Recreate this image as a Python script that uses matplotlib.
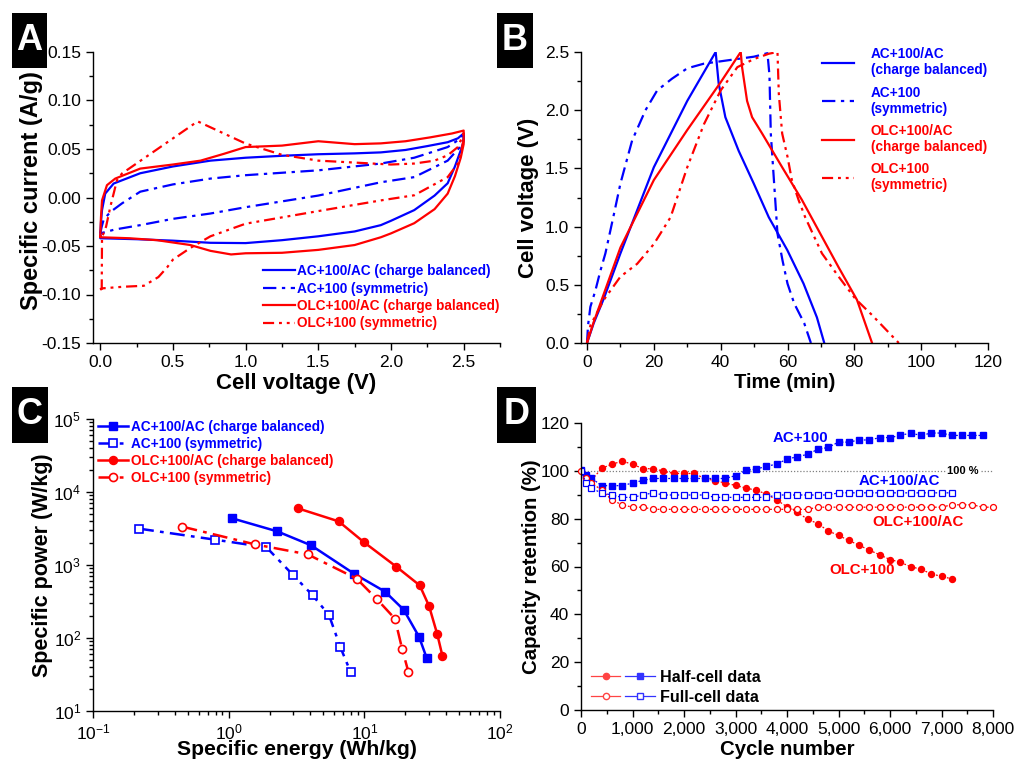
import matplotlib
matplotlib.use("Agg")
import matplotlib.pyplot as plt
from matplotlib.patches import Rectangle
from matplotlib.legend_handler import HandlerTuple
from matplotlib.ticker import MultipleLocator, FuncFormatter

plt.rcParams['font.family'] = ['Liberation Sans', 'DejaVu Sans']
plt.rcParams['mathtext.fontset'] = 'custom'
plt.rcParams['mathtext.rm'] = 'Liberation Sans'

BLUE = '#0000ff'
RED = '#ff0000'
DASHDOT = (0, (6, 2.5, 1.5, 2.5))
DASHDOTDOT = (0, (5, 2.2, 1.3, 2.2, 1.3, 2.2))

# ---------- A: cyclic voltammetry (V, A/g) ----------
cv_ac_bal_v = [0.0, 0.005, 0.012, 0.034, 0.092, 0.275, 0.5, 0.758, 1.0, 1.25, 1.5, 1.75,
               1.93, 2.1, 2.25, 2.39, 2.46, 2.5,
               2.5, 2.48, 2.44, 2.39, 2.3, 2.16, 2.0, 1.93, 1.75, 1.5, 1.25, 1.0, 0.758,
               0.5, 0.25, 0.0, 0.0]
cv_ac_bal_i = [-0.040, -0.025, -0.013, 0.004, 0.0144, 0.025, 0.032, 0.038, 0.041, 0.043,
               0.0446, 0.0455, 0.0465, 0.049, 0.053, 0.057, 0.061, 0.066,
               0.058, 0.0487, 0.032, 0.0147, 0.002, -0.013, -0.024, -0.0285, -0.035,
               -0.040, -0.044, -0.047, -0.0467, -0.0445, -0.043, -0.042, -0.040]

cv_ac_sym_v = [0.0, 0.01, 0.023, 0.069, 0.15, 0.275, 0.5, 0.758, 1.0, 1.5, 1.93, 2.16,
               2.39, 2.47, 2.5,
               2.5, 2.48, 2.39, 2.16, 1.93, 1.5, 1.0, 0.758, 0.5, 0.275, 0.1, 0.0]
cv_ac_sym_i = [-0.037, -0.030, -0.023, -0.015, -0.006, 0.006, 0.0135, 0.0195, 0.023, 0.028,
               0.035, 0.041, 0.052, 0.060, 0.066,
               0.060, 0.053, 0.038, 0.021, 0.0157, 0.002, -0.010, -0.0165, -0.022,
               -0.0285, -0.033, -0.037]

cv_olc_bal_v = [0.0, 0.005, 0.012, 0.046, 0.103, 0.275, 0.5, 0.69, 0.85, 1.0, 1.25, 1.5,
                1.75, 1.93, 2.1, 2.27, 2.42, 2.5,
                2.5, 2.48, 2.44, 2.39, 2.3, 2.16, 2.0, 1.93, 1.75, 1.5, 1.25, 1.0, 0.9,
                0.758, 0.62, 0.39, 0.2, 0.0, 0.0]
cv_olc_bal_i = [-0.040, -0.020, -0.003, 0.0127, 0.0195, 0.0298, 0.034, 0.038, 0.045, 0.052,
                0.0535, 0.058, 0.055, 0.0558, 0.058, 0.062, 0.066, 0.069,
                0.055, 0.041, 0.022, 0.004, -0.012, -0.0265, -0.037, -0.041, -0.049,
                -0.054, -0.057, -0.0575, -0.0587, -0.055, -0.049, -0.044, -0.042,
                -0.041, -0.040]

cv_olc_sym_v = [0.0, 0.01, 0.012, 0.04, 0.069, 0.115, 0.149, 0.67, 1.0, 1.25, 1.5, 2.0,
                2.16, 2.3, 2.39, 2.46, 2.5,
                2.5, 2.48, 2.46, 2.39, 2.16, 1.93, 1.5, 1.0, 0.758, 0.62, 0.5, 0.46,
                0.4, 0.3, 0.16, 0.01, 0.0]
cv_olc_sym_i = [-0.095, -0.094, -0.041, -0.030, -0.0097, 0.0178, 0.0247, 0.0785, 0.0556,
                0.044, 0.038, 0.034, 0.035, 0.038, 0.0435, 0.052, 0.066,
                0.060, 0.0455, 0.035, 0.021, 0.0023, -0.003, -0.014, -0.027, -0.040,
                -0.052, -0.064, -0.072, -0.082, -0.091, -0.092, -0.0937, -0.095]

# ---------- B: galvanostatic charge/discharge (min, V) ----------
gc_ac_bal_t = [0, 2, 5, 10, 20, 30, 38.5, 39.4, 41.4, 45.4, 49.9, 54.4, 59.9, 64.8, 68.8,
               71]
gc_ac_bal_v = [0, 0.17, 0.38, 0.77, 1.51, 2.08, 2.50, 2.23, 1.94, 1.65, 1.37, 1.08, 0.80,
               0.51, 0.22, 0]

gc_ac_sym_t = [0, 0.3, 1, 2.5, 4, 5.5, 8, 10, 13.5, 17.5, 21, 25.4, 30, 35, 40, 50, 54,
               54.6, 55, 56, 57, 58.5, 60, 62, 65, 67]
gc_ac_sym_v = [0, 0.15, 0.31, 0.45, 0.62, 0.77, 1.10, 1.37, 1.74, 2.00, 2.17, 2.27, 2.36,
               2.40, 2.42, 2.46, 2.49, 2.30, 1.80, 1.37, 0.94, 0.71, 0.51, 0.34, 0.17, 0]

gc_olc_bal_t = [0, 2, 5, 10, 20, 30, 40, 46, 46.4, 47.9, 49.4, 52.4, 58.4, 64.3, 69.8,
                75.3, 80.8, 85.3]
gc_olc_bal_v = [0, 0.18, 0.42, 0.82, 1.40, 1.83, 2.24, 2.50, 2.37, 2.08, 1.94, 1.80, 1.51,
                1.23, 0.94, 0.65, 0.37, 0]

gc_olc_sym_t = [0, 1, 5, 10, 15, 20, 25, 30, 35, 40, 45, 50, 54.4, 57, 57.4, 58.4, 60, 61.3,
                63.3, 65.3, 70.3, 75.3, 80.3, 85.3, 90.3, 93.3]
gc_olc_sym_v = [0, 0.15, 0.37, 0.57, 0.68, 0.85, 1.08, 1.51, 1.88, 2.17, 2.37, 2.44, 2.485,
                2.50, 2.14, 1.80, 1.60, 1.40, 1.23, 1.08, 0.77, 0.57, 0.38, 0.24, 0.09, 0]

# ---------- C: Ragone plot (Wh/kg, W/kg) ----------
rg_ac_bal_e = [1.06, 2.28, 4.05, 8.39, 14.2, 19.5, 25.3, 28.8]
rg_ac_bal_p = [4360, 2890, 1860, 761, 432, 244, 104, 53.3]
rg_ac_sym_e = [0.218, 0.797, 1.90, 2.98, 4.16, 5.49, 6.65, 7.93]
rg_ac_sym_p = [3150, 2220, 1745, 730, 384, 206, 75.3, 33.9]
rg_olc_bal_e = [3.24, 6.47, 9.94, 17.2, 25.6, 30.0, 34.5, 37.6]
rg_olc_bal_p = [5970, 3960, 2050, 949, 526, 274, 112, 57.3]
rg_olc_sym_e = [0.456, 1.56, 3.82, 8.78, 12.4, 16.8, 19.0, 21.1]
rg_olc_sym_p = [3350, 1918, 1400, 650, 339, 184, 70.7, 34.6]

# ---------- D: cycling stability (cycle, %) ----------
cyc = [0, 100, 200, 400, 600, 800, 1000, 1200, 1400, 1600, 1800, 2000, 2200, 2400, 2600,
       2800, 3000, 3200, 3400, 3600, 3800, 4000, 4200, 4400, 4600, 4800, 5000, 5200, 5400,
       5600, 5800, 6000, 6200, 6400, 6600, 6800, 7000, 7200, 7400, 7600, 7800, 8000]
half_ac = [100.5, 98.1, 97.0, 93.8, 93.8, 93.8, 94.9, 96.0, 96.8, 96.8, 96.8, 96.8, 96.8,
           96.8, 96.8, 96.8, 98.0, 100.2, 100.7, 101.9, 102.8, 104.9, 105.9, 106.9, 109.0,
           109.8, 112.0, 112.0, 112.9, 112.9, 113.9, 113.9, 114.8, 115.8, 114.8, 115.8,
           115.8, 114.8, 114.8, 114.8, 114.8]
half_olc = [100.0, 97.5, 96.0, 101.0, 102.8, 104.0, 102.8, 100.9, 100.9, 99.9, 98.9, 98.9,
            98.9, 96.8, 95.9, 94.9, 93.9, 92.8, 91.9, 90.3, 87.8, 85.0, 82.6, 79.8, 77.9,
            74.9, 73.0, 70.9, 68.9, 66.8, 64.9, 62.9, 61.8, 59.9, 58.9, 56.9, 55.9, 54.8]
full_ac = [100.0, 94.9, 92.8, 90.7, 89.9, 88.9, 88.9, 89.9, 90.8, 89.9, 89.9, 89.9, 89.9,
           89.9, 88.9, 88.9, 88.9, 88.9, 88.9, 88.9, 89.9, 89.9, 89.9, 89.9, 89.9, 89.9,
           90.8, 90.8, 90.8, 90.8, 90.8, 90.8, 90.8, 90.8, 90.8, 90.8, 90.8, 90.8]
full_olc = [100.0, 97.0, 95.0, 92.0, 87.8, 85.8, 84.8, 84.8, 83.9, 83.9, 83.9, 83.9, 83.9,
            83.9, 83.9, 83.9, 83.9, 83.9, 83.9, 83.9, 83.9, 83.9, 83.9, 83.9, 84.8, 84.8,
            84.8, 84.8, 84.8, 84.8, 84.8, 84.8, 84.8, 84.8, 84.8, 84.8, 84.8, 85.8, 85.8,
            85.8, 84.8, 84.8]

W, H = 1014, 759
fig = plt.figure(figsize=(W / 100, H / 100), dpi=100)


def px_axes(left, top, right, bottom):
    return fig.add_axes([left / W, 1 - bottom / H, (right - left) / W, (bottom - top) / H])


def style(ax):
    ax.spines['top'].set_visible(False)
    ax.spines['right'].set_visible(False)
    for s in ('left', 'bottom'):
        ax.spines[s].set_linewidth(1.0)
    ax.tick_params(which='both', direction='out', labelsize=12.5, width=1.0)
    ax.tick_params(which='major', length=5)
    ax.tick_params(which='minor', length=3)


def panel_label(letter, left, top, right, bottom):
    fig.patches.append(Rectangle((left / W, 1 - bottom / H), (right - left) / W,
                                 (bottom - top) / H, transform=fig.transFigure,
                                 facecolor='black', edgecolor='none'))
    fig.text((left + right) / 2 / W, 1 - (top + bottom) / 2 / H, letter, color='white',
             fontsize=26, fontweight='bold', ha='center', va='center')


def color_legend(lg):
    for t, l in zip(lg.get_texts(), lg.get_lines()):
        t.set_color(l.get_color())


leg_font = dict(size=9.8, weight='bold')

# A
ax = px_axes(93, 52, 500, 343)
style(ax)
ax.plot(cv_ac_bal_v, cv_ac_bal_i, color=BLUE, lw=1.6, label='AC+100/AC (charge balanced)')
ax.plot(cv_ac_sym_v, cv_ac_sym_i, color=BLUE, lw=1.6, ls=DASHDOT, label='AC+100 (symmetric)')
ax.plot(cv_olc_bal_v, cv_olc_bal_i, color=RED, lw=1.6,
        label='OLC+100/AC (charge balanced)')
ax.plot(cv_olc_sym_v, cv_olc_sym_i, color=RED, lw=1.6, ls=DASHDOTDOT,
        label='OLC+100 (symmetric)')
ax.set_xlim(-0.05, 2.75)
ax.set_ylim(-0.15, 0.15)
ax.xaxis.set_major_locator(MultipleLocator(0.5))
ax.xaxis.set_minor_locator(MultipleLocator(0.25))
ax.yaxis.set_major_locator(MultipleLocator(0.05))
ax.yaxis.set_minor_locator(MultipleLocator(0.025))
ax.xaxis.set_major_formatter(FuncFormatter(lambda v, p: '%.1f' % v))
ax.yaxis.set_major_formatter(FuncFormatter(lambda v, p: '%.2f' % v))
ax.set_xlabel('Cell voltage (V)', labelpad=2, fontsize=16, fontweight='bold')
ax.set_ylabel('Specific current (A/g)', fontsize=17, fontweight='bold')
ax.yaxis.set_label_coords(-0.123, 0.525)
lg = ax.legend(loc='lower left', bbox_to_anchor=(0.40, 0.02), frameon=False, prop=leg_font,
               handlelength=2.4, handletextpad=0.15, labelspacing=0.25, borderpad=0)
color_legend(lg)

# B
ax = px_axes(581, 52, 988, 343)
style(ax)
ax.plot(gc_ac_bal_t, gc_ac_bal_v, color=BLUE, lw=1.6, label='AC+100/AC\n(charge balanced)')
ax.plot(gc_ac_sym_t, gc_ac_sym_v, color=BLUE, lw=1.6, ls=DASHDOT, label='AC+100\n(symmetric)')
ax.plot(gc_olc_bal_t, gc_olc_bal_v, color=RED, lw=1.6, label='OLC+100/AC\n(charge balanced)')
ax.plot(gc_olc_sym_t, gc_olc_sym_v, color=RED, lw=1.6, ls=DASHDOTDOT,
        label='OLC+100\n(symmetric)')
ax.set_xlim(-1.8, 120)
ax.set_ylim(0, 2.5)
ax.xaxis.set_major_locator(MultipleLocator(20))
ax.xaxis.set_minor_locator(MultipleLocator(10))
ax.yaxis.set_major_locator(MultipleLocator(0.5))
ax.yaxis.set_minor_locator(MultipleLocator(0.25))
ax.yaxis.set_major_formatter(FuncFormatter(lambda v, p: '%.1f' % v))
ax.set_xlabel('Time (min)', labelpad=2, fontsize=14.5, fontweight='bold')
ax.set_ylabel('Cell voltage (V)', labelpad=4, fontsize=16, fontweight='bold')
lg = ax.legend(loc='upper left', bbox_to_anchor=(0.575, 1.04), frameon=False, prop=leg_font,
               handlelength=2.4, handletextpad=1.2, labelspacing=0.6, borderpad=0)
color_legend(lg)

# C
ax = px_axes(93, 419, 500, 711)
style(ax)
ax.plot(rg_ac_bal_e, rg_ac_bal_p, color=BLUE, lw=1.8, marker='s', ms=5.2,
        label='AC+100/AC (charge balanced)')
ax.plot(rg_ac_sym_e, rg_ac_sym_p, color=BLUE, lw=1.8, ls=DASHDOT, marker='s', ms=5.2,
        mfc='white', mew=1.2, label='AC+100 (symmetric)')
ax.plot(rg_olc_bal_e, rg_olc_bal_p, color=RED, lw=1.8, marker='o', ms=5.8,
        label='OLC+100/AC (charge balanced)')
ax.plot(rg_olc_sym_e, rg_olc_sym_p, color=RED, lw=1.8, ls=DASHDOT, marker='o', ms=5.8,
        mfc='white', mew=1.2, label='OLC+100 (symmetric)')
ax.set_xscale('log')
ax.set_yscale('log')
ax.set_xlim(0.1, 100)
ax.set_ylim(10, 1e5)
ax.set_xlabel('Specific energy (Wh/kg)', labelpad=-2.0, fontsize=15.2, fontweight='bold')
ax.set_ylabel('Specific power (W/kg)', labelpad=0, fontsize=15.5, fontweight='bold')
lg = ax.legend(loc='upper left', bbox_to_anchor=(-0.004, 1.02), frameon=False, prop=leg_font,
               handlelength=2.2, handletextpad=0.2, labelspacing=0.22, borderpad=0)
color_legend(lg)

# D
ax = px_axes(581, 423, 993, 710)
style(ax)
ax.axhline(100, xmin=0, xmax=7080 / 8000, color='gray', lw=0.9, ls=(0, (1, 1.5)))
ax.axhline(100, xmin=7760 / 8000, xmax=1, color='gray', lw=0.9, ls=(0, (1, 1.5)))
ax.text(7420, 100, '100 %', fontsize=8, fontweight='bold', ha='center', va='center')
n1, n2, n3 = len(half_ac), len(half_olc), len(full_ac)
dot = (0, (1.5, 1.5))
ax.plot(cyc[:n2], half_olc, color=RED, lw=0.9, ls=dot, marker='o', ms=4.3)
ax.plot(cyc[:n1], half_ac, color=BLUE, lw=0.9, ls=dot, marker='s', ms=3.8)
ax.plot(cyc, full_olc, color=RED, lw=0.9, ls=dot, marker='o', ms=4.3, mfc='white',
        mew=0.9, clip_on=False)
ax.plot(cyc[:n3], full_ac, color=BLUE, lw=0.9, ls=dot, marker='s', ms=3.8, mfc='white',
        mew=0.9)
ax.set_xlim(0, 8000)
ax.set_ylim(0, 120)
ax.xaxis.set_major_locator(MultipleLocator(1000))
ax.xaxis.set_minor_locator(MultipleLocator(500))
ax.yaxis.set_major_locator(MultipleLocator(20))
ax.yaxis.set_minor_locator(MultipleLocator(10))
ax.xaxis.set_major_formatter(FuncFormatter(lambda v, p: '{:,.0f}'.format(v)))
ax.set_xlabel('Cycle number', labelpad=2, fontsize=14.7, fontweight='bold')
ax.set_ylabel('Capacity retention (%)', labelpad=-0.5, fontsize=14.7, fontweight='bold')
ann = dict(fontsize=10.8, fontweight='bold', ha='center', va='center')
ax.text(4270, 113.7, 'AC+100', color=BLUE, **ann)
ax.text(6190, 95.6, 'AC+100/AC', color=BLUE, **ann)
ax.text(6540, 78.8, 'OLC+100/AC', color=RED, **ann)
ax.text(5460, 58.6, 'OLC+100', color=RED, **ann)
lh_ro, = ax.plot([], [], color='#ff4444', lw=0.9, marker='o', ms=4.5)
lh_bs, = ax.plot([], [], color='#3333ff', lw=0.9, marker='s', ms=4)
lh_ro2, = ax.plot([], [], color='#ff4444', lw=0.9, marker='o', ms=4.5, mfc='white')
lh_bs2, = ax.plot([], [], color='#3333ff', lw=0.9, marker='s', ms=4, mfc='white')
ax.legend([(lh_ro, lh_bs), (lh_ro2, lh_bs2)], ['Half-cell data', 'Full-cell data'],
          handler_map={tuple: HandlerTuple(ndivide=None, pad=0.3)},
          loc='lower left', bbox_to_anchor=(0.0, -0.015), frameon=False,
          prop=dict(size=11.6, weight='bold'), handlelength=4.0, handletextpad=0.3,
          labelspacing=0.3, borderpad=0.1)

panel_label('A', 12, 13, 47, 68)
panel_label('B', 497, 13, 533, 68)
panel_label('C', 12, 387, 48, 443)
panel_label('D', 497, 387, 536, 443)

fig.savefig('out.png', dpi=100)
